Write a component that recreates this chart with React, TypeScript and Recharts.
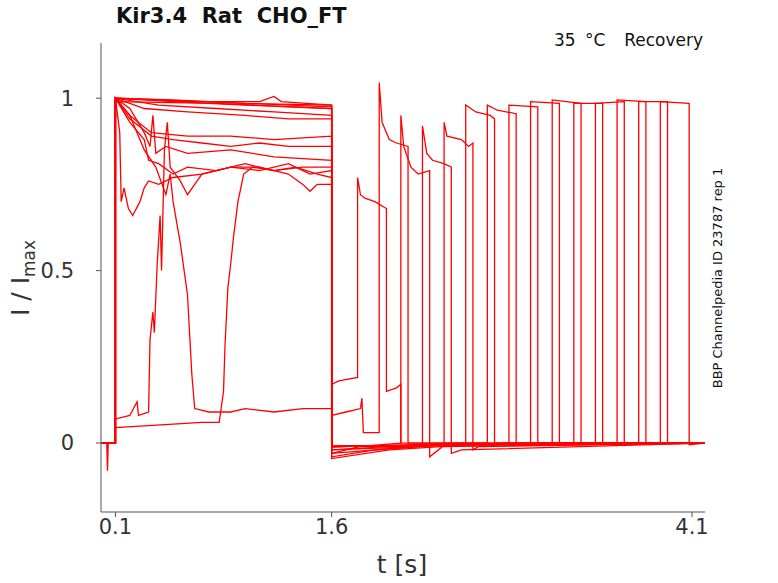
import React from 'react';
import { LineChart, Line, XAxis, YAxis } from 'recharts';

type Pt = [number, number];

// first pulse (0.1 s .. 1.6 s)
const pulse1: Pt[] = [[0, 0], [0.1, 0], [0.1, 1], [0.2, 0.95], [0.3, 0.85], [0.38, 0.8], [0.45, 0.72], [0.48, 0.78], [0.5, 0.7], [0.55, 0.58], [0.6, 0.43], [0.63, 0.2], [0.65, 0.1], [0.75, 0.09], [0.9, 0.09], [1.0, 0.1], [1.2, 0.09], [1.4, 0.1], [1.6, 0.1]];
const pulse2: Pt[] = [[0, 0], [0.1, 0], [0.1, 0.045], [0.3, 0.05], [0.5, 0.055], [0.7, 0.06], [0.82, 0.06], [0.85, 0.15], [0.86, 0.28], [0.88, 0.45], [0.9, 0.52], [0.92, 0.6], [0.95, 0.7], [0.99, 0.78], [1.05, 0.8], [1.2, 0.79], [1.35, 0.8], [1.5, 0.78], [1.6, 0.77]];
const pulse3: Pt[] = [[0, 0], [0.04, 0], [0.045, -0.08], [0.05, 0], [0.1, 0], [0.1, 0.07], [0.2, 0.08], [0.25, 0.12], [0.26, 0.08], [0.33, 0.09], [0.34, 0.3], [0.36, 0.38], [0.37, 0.32], [0.39, 0.52], [0.41, 0.66], [0.42, 0.5], [0.44, 0.85], [0.46, 0.93], [0.48, 0.8], [0.55, 0.76], [0.6, 0.72], [0.7, 0.78], [0.9, 0.8], [1.1, 0.79], [1.3, 0.81], [1.45, 0.78], [1.6, 0.79]];
const pulse4: Pt[] = [[0, 0], [0.1, 0], [0.1, 1], [0.13, 0.9], [0.14, 0.7], [0.16, 0.74], [0.19, 0.68], [0.22, 0.66], [0.27, 0.7], [0.3, 0.74], [0.33, 0.76], [0.4, 0.75], [0.5, 0.77], [0.7, 0.78], [0.9, 0.8], [1.1, 0.8], [1.3, 0.78], [1.4, 0.75], [1.45, 0.73], [1.5, 0.75], [1.6, 0.75]];
const pulse5: Pt[] = [[0, 0], [0.1, 0], [0.1, 1], [0.2, 0.93], [0.3, 0.88], [0.33, 0.82], [0.4, 0.81], [0.5, 0.78], [0.6, 0.8], [0.8, 0.79], [1.0, 0.81], [1.2, 0.79], [1.4, 0.8], [1.6, 0.8]];
const pulse6: Pt[] = [[0, 0], [0.1, 0], [0.1, 1], [0.2, 0.94], [0.35, 0.89], [0.5, 0.88], [0.7, 0.87], [0.9, 0.86], [1.1, 0.87], [1.3, 0.86], [1.6, 0.86]];
const pulse7: Pt[] = [[0, 0], [0.1, 0], [0.1, 1], [0.2, 0.95], [0.35, 0.9], [0.6, 0.89], [0.9, 0.89], [1.2, 0.88], [1.6, 0.89]];
const pulse8: Pt[] = [[0, 0], [0.1, 0], [0.1, 1], [0.3, 0.97], [0.6, 0.96], [1.0, 0.95], [1.3, 0.94], [1.6, 0.94]];
const pulse9: Pt[] = [[0, 0], [0.1, 0], [0.1, 1], [0.4, 0.98], [0.8, 0.97], [1.2, 0.96], [1.6, 0.95]];
const pulse10: Pt[] = [[0, 0], [0.1, 0], [0.1, 1], [0.5, 0.99], [1.0, 0.98], [1.6, 0.97]];
const pulse11: Pt[] = [[0, 0], [0.1, 0], [0.1, 1], [0.5, 0.995], [1.0, 0.985], [1.6, 0.98]];
const pulse12: Pt[] = [[0, 0], [0.1, 0], [0.1, 1], [0.6, 0.99], [1.1, 0.99], [1.2, 1.005], [1.25, 0.99], [1.6, 0.98]];
const pulse13: Pt[] = [[0, 0], [0.1, 0], [0.1, 1], [0.7, 0.99], [1.6, 0.975]];
const pulse14: Pt[] = [[0, 0], [0.1, 0], [0.1, 0.99], [0.8, 0.985], [1.6, 0.97]];
const pulse15: Pt[] = [[0, 0], [0.1, 0], [0.1, 1], [0.2, 0.97], [0.3, 0.9], [0.34, 0.86], [0.36, 0.95], [0.38, 0.84], [0.45, 0.86], [0.6, 0.84], [0.9, 0.85], [1.2, 0.83], [1.6, 0.82]];

// interval and recovery test pulse (1.6 s .. end)
const rec1: Pt[] = [[1.6, 0.17], [1.65, 0.18], [1.78, 0.19], [1.78, 0.77], [1.8, 0.72], [1.83, 0.71], [1.9, 0.7], [1.98, 0.68], [1.98, 0.15], [2.05, 0.16], [2.08, 0.17], [2.08, 0.0], [4.19, 0.0]];
const rec2: Pt[] = [[1.6, 0.08], [1.7, 0.09], [1.8, 0.1], [1.81, 0.13], [1.82, 0.03], [1.93, 0.03], [1.93, 1.045], [1.95, 0.93], [1.98, 0.9], [2.0, 0.88], [2.05, 0.87], [2.13, 0.86], [2.13, 0.0], [4.19, 0.0]];
const rec3: Pt[] = [[1.6, -0.03], [1.8, -0.01], [2.08, 0.0], [2.08, 0.95], [2.1, 0.86], [2.15, 0.8], [2.2, 0.78], [2.28, 0.79], [2.28, -0.04], [2.37, -0.01], [4.19, 0.0]];
const rec4: Pt[] = [[1.6, -0.04], [1.9, -0.02], [2.23, -0.01], [2.23, 0.92], [2.26, 0.84], [2.3, 0.82], [2.38, 0.81], [2.43, 0.8], [2.43, -0.03], [2.5, -0.02], [4.19, 0.0]];
const rec5: Pt[] = [[1.6, -0.045], [2.0, -0.02], [2.38, -0.01], [2.38, 0.93], [2.4, 0.89], [2.5, 0.88], [2.55, 0.86], [2.58, 0.87], [2.58, -0.02], [2.62, -0.01], [4.19, 0.0]];
const rec6: Pt[] = [[1.6, -0.03], [2.2, -0.01], [2.53, 0.0], [2.53, 0.98], [2.6, 0.96], [2.7, 0.95], [2.73, 0.94], [2.73, 0.0], [4.19, 0.0]];
const rec7: Pt[] = [[1.6, -0.02], [2.4, 0.0], [2.68, 0.0], [2.68, 0.98], [2.75, 0.965], [2.88, 0.955], [2.88, 0.0], [4.19, 0.0]];
const rec8: Pt[] = [[1.6, -0.02], [2.83, 0.0], [2.83, 0.98], [3.03, 0.975], [3.03, 0.0], [4.19, 0.0]];
const rec9: Pt[] = [[1.6, -0.01], [2.98, 0.0], [2.98, 0.99], [3.18, 0.985], [3.18, 0.0], [4.19, 0.0]];
const rec10: Pt[] = [[1.6, -0.01], [3.13, 0.0], [3.13, 0.995], [3.33, 0.985], [3.33, 0.0], [4.19, 0.0]];
const rec11: Pt[] = [[1.6, -0.01], [3.28, 0.0], [3.28, 0.985], [3.48, 0.985], [3.48, 0.0], [4.19, 0.0]];
const rec12: Pt[] = [[1.6, -0.01], [3.43, 0.0], [3.43, 0.985], [3.63, 0.99], [3.63, 0.0], [4.19, 0.0]];
const rec13: Pt[] = [[1.6, -0.01], [3.58, 0.0], [3.58, 0.995], [3.78, 0.99], [3.78, 0.0], [4.19, 0.0]];
const rec14: Pt[] = [[1.6, -0.01], [3.73, 0.0], [3.73, 0.99], [3.93, 0.99], [3.93, 0.0], [4.19, 0.0]];
const rec15: Pt[] = [[1.6, -0.01], [3.88, 0.0], [3.88, 0.99], [4.08, 0.985], [4.08, -0.005], [4.19, 0.0]];

const pulses = [pulse1, pulse2, pulse3, pulse4, pulse5, pulse6, pulse7, pulse8, pulse9, pulse10, pulse11, pulse12, pulse13, pulse14, pulse15];
const recs = [rec1, rec2, rec3, rec4, rec5, rec6, rec7, rec8, rec9, rec10, rec11, rec12, rec13, rec14, rec15];

const xTicks = [0.1, 1.6, 4.1];
const yTicks = [0, 0.5, 1];

const traces = pulses.map((p, i) => [...p, ...recs[i]].map(([t, v]) => ({ t, v })));

const font = 'DejaVu Sans, sans-serif';
const axisTick = { fontSize: 21, fill: '#333', fontFamily: font };

export default function App() {
  return (
    <div style={{ position: 'absolute', left: 0, top: 0, width: 778, height: 583, background: '#fff', fontFamily: font }}>
      <LineChart width={778} height={583} margin={{ top: 43, right: 73, bottom: 41, left: 41 }}>
        <XAxis
          type="number"
          dataKey="t"
          domain={[0, 4.19]}
          ticks={xTicks}
          height={30}
          tick={axisTick}
          tickSize={5}
          stroke="#555"
          allowDuplicatedCategory={false}
        />
        <YAxis
          type="number"
          dataKey="v"
          domain={[-0.2, 1.16]}
          ticks={yTicks}
          width={60}
          tick={axisTick}
          tickSize={5}
          tickMargin={22}
          stroke="#555"
        />
        {traces.map((d, i) => (
          <Line
            key={i}
            data={d}
            dataKey="v"
            type="linear"
            stroke="#ff0000"
            strokeWidth={1.3}
            dot={false}
            isAnimationActive={false}
          />
        ))}
      </LineChart>
      <div style={{ position: 'absolute', left: 116, top: 4, fontSize: 21, fontWeight: 'bold', color: '#111', whiteSpace: 'pre' }}>
        Kir3.4  Rat  CHO_FT
      </div>
      <div style={{ position: 'absolute', right: 75, top: 30, fontSize: 17, color: '#111', whiteSpace: 'pre', wordSpacing: 4 }}>
        35 °C  Recovery
      </div>
      <div style={{ position: 'absolute', left: 402, top: 550, fontSize: 25, color: '#333', transform: 'translateX(-50%)' }}>
        t [s]
      </div>
      <div style={{ position: 'absolute', left: 22, top: 278, fontSize: 25, color: '#333', transform: 'translate(-50%, -50%) rotate(-90deg)', whiteSpace: 'nowrap' }}>
        I / I<sub style={{ fontSize: 17 }}>max</sub>
      </div>
      <div style={{ position: 'absolute', left: 717, top: 278, fontSize: 13, color: '#111', transform: 'translate(-50%, -50%) rotate(-90deg)', whiteSpace: 'nowrap' }}>
        BBP Channelpedia ID 23787 rep 1
      </div>
    </div>
  );
}
